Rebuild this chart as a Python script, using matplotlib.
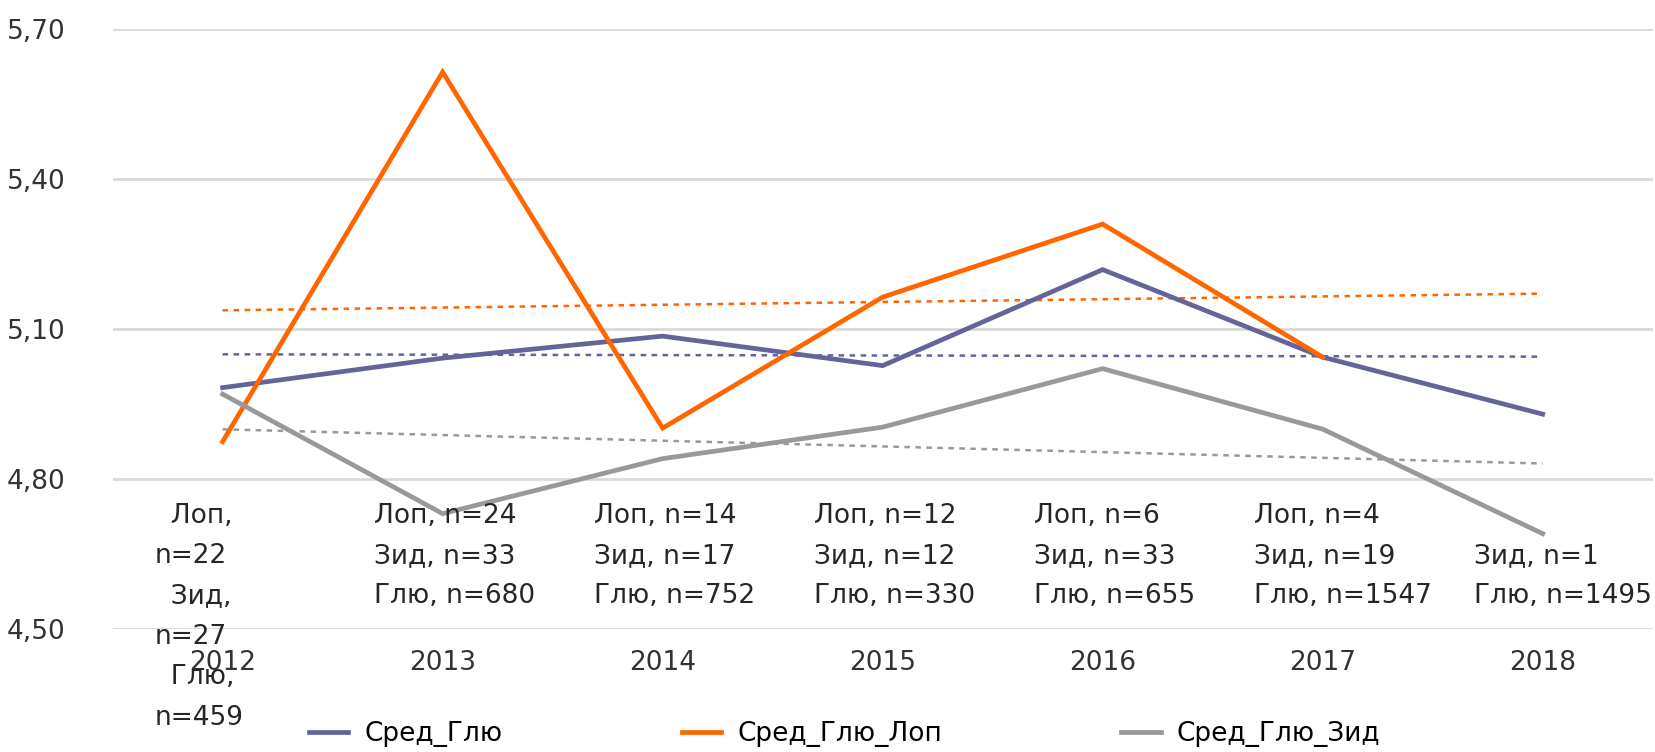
import numpy as np
import matplotlib
matplotlib.use("Agg")
import matplotlib.pyplot as plt

# данные
years = ["2012", "2013", "2014", "2015", "2016", "2017", "2018"]
sred_glu = [4.982, 5.041, 5.085, 5.026, 5.218, 5.043, 4.929]
sred_glu_lop = [4.874, 5.613, 4.901, 5.163, 5.309, 5.043, np.nan]
sred_glu_zid = [4.969, 4.730, 4.840, 4.903, 5.020, 4.899, 4.690]
n_labels = [
    "  Лоп,\nn=22\n  Зид,\nn=27\n  Глю,\nn=459",
    "Лоп, n=24\nЗид, n=33\nГлю, n=680",
    "Лоп, n=14\nЗид, n=17\nГлю, n=752",
    "Лоп, n=12\nЗид, n=12\nГлю, n=330",
    "Лоп, n=6\nЗид, n=33\nГлю, n=655",
    "Лоп, n=4\nЗид, n=19\nГлю, n=1547",
    "\nЗид, n=1\nГлю, n=1495",
]
y_ticks = [4.50, 4.80, 5.10, 5.40, 5.70]

plt.rcParams['font.family'] = ['DejaVu Sans']
FS = 19

fig = plt.figure(figsize=(16.56, 7.52), dpi=100)
ax = fig.add_axes([0.068, 0.164, 0.930, 0.798])

x = np.arange(len(years))
series = [
    ("Сред_Глю", sred_glu, "#64649a"),
    ("Сред_Глю_Лоп", sred_glu_lop, "#ff6600"),
    ("Сред_Глю_Зид", sred_glu_zid, "#999999"),
]

# линейные тренды (как в Excel)
for name, vals, col in series:
    v = np.array(vals, dtype=float)
    ok = ~np.isnan(v)
    k, b = np.polyfit(x[ok], v[ok], 1)
    ax.plot(x, k * x + b, color=col, lw=1.8, ls=(0, (2.2, 2.2)), zorder=2)

for name, vals, col in series:
    ax.plot(x, vals, color=col, lw=3.4, label=name, zorder=3,
            solid_joinstyle='miter')

for i, lab in enumerate(n_labels):
    ax.text(i - 0.31, 4.752, lab, ha='left', va='top', fontsize=FS,
            color='#262626', linespacing=1.72, zorder=4)

ax.set_xlim(-0.5, len(years) - 0.5)
ax.set_ylim(4.50, 5.70)
ax.set_yticks(y_ticks)
ax.set_yticklabels([f"{v:.2f}".replace('.', ',') for v in y_ticks])
ax.set_xticks(x)
ax.set_xticklabels(years)
ax.tick_params(axis='both', length=0, labelsize=FS, labelcolor='#333333')
ax.tick_params(axis='y', pad=34)
ax.tick_params(axis='x', pad=15)
ax.grid(axis='y', color='#d9d9d9', lw=2)
ax.set_axisbelow(True)
for s in ax.spines.values():
    s.set_visible(False)

fig.legend(loc='lower center', bbox_to_anchor=(0.51, -0.025), ncol=3,
           frameon=False, fontsize=FS, handlelength=1.5, columnspacing=6.8,
           handletextpad=0.6)

fig.savefig("out.png", dpi=100)
